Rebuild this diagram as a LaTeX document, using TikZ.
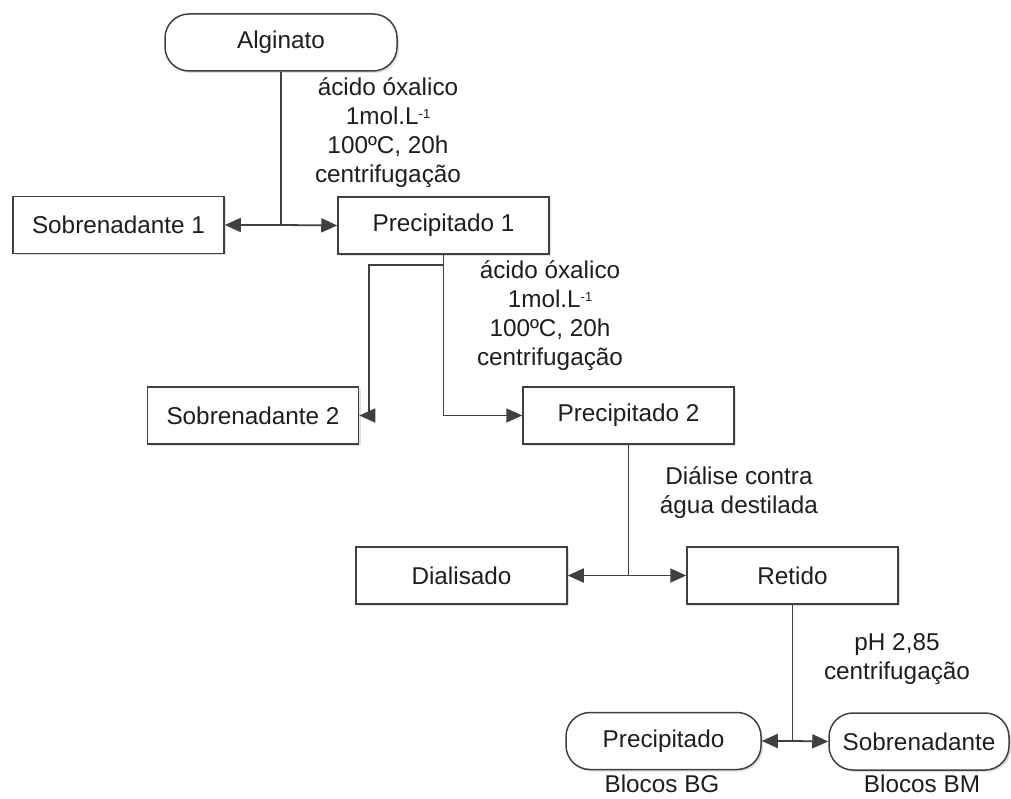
\documentclass[tikz,border=0pt]{standalone}
\usepackage{fontspec}
\setmainfont{Liberation Sans}
\usetikzlibrary{arrows.meta,shadows}
\definecolor{ln}{HTML}{404040}
\definecolor{tx}{HTML}{1E1E1E}
\tikzset{
  box/.style={draw=ln, line width=1.5pt, fill=white, minimum width=211pt, minimum height=57pt,
    inner sep=0pt, text=tx, font=\fontsize{24.3}{29}\selectfont,
    drop shadow={opacity=0.25, shadow xshift=2pt, shadow yshift=-2pt}},
  rbox/.style={box, rounded corners=24pt, minimum height=57pt},
  lbl/.style={align=center, text=tx, font=\fontsize{24.3}{29}\selectfont, inner sep=0pt},
  conn/.style={draw=ln, line width=1.8pt},
  arr/.style={conn, -{Triangle[length=16pt,width=14pt]}},
}
\begin{document}
\begin{tikzpicture}[x=1pt,y=-1pt]
\useasboundingbox (0,0) rectangle (1011,799);
% nodes
\node[rbox, minimum width=232pt] (alg) at (281,42.5) {Alginato};
\node[box] (s1) at (118.5,225) {Sobrenadante 1};
\node[box] (p1) at (443.5,225.5) {Precipitado 1};
\node[box] (s2) at (253,415.5) {Sobrenadante 2};
\node[box] (p2) at (628.5,415.5) {Precipitado 2};
\node[box] (dia) at (461.5,575.5) {Dialisado};
\node[box] (ret) at (792.5,575.5) {Retido};
\node[rbox, minimum width=195pt] (pre) at (663.5,741) {Precipitado};
\node[rbox, minimum width=180pt] (sob) at (919,741.5) {Sobrenadante};
% labels
\node[lbl] (l1) at (388,133) {ácido óxalico\\1mol.L\raisebox{6pt}{\fontsize{13}{13}\selectfont -1}\\100ºC, 20h\\centrifugação};
\node[lbl] (l2) at (550,316) {ácido óxalico\\1mol.L\raisebox{6pt}{\fontsize{13}{13}\selectfont -1}\\100ºC, 20h\\centrifugação};
\node[lbl] (l3) at (739,492.5) {Diálise contra\\água destilada};
\node[lbl] (l4) at (897,659) {pH 2,85\\centrifugação};
\node[lbl] (bg) at (662,784) {Blocos BG};
\node[lbl] (bm) at (922,784) {Blocos BM};
% junctions
\coordinate (j1) at (alg.south |- s1.east);
\coordinate (j2) at (443.5,265);
\coordinate (j2l) at (369,265);
\coordinate (j2d) at (369,415.5);
\coordinate (j3) at (443.5,415.5);
\coordinate (j4) at (p2.south |- dia.east);
\coordinate (j5) at (ret.south |- pre.east);
% connectors
\draw[conn] (alg.south) -- (j1);
\draw[arr] (j1) -- (s1.east);
\draw[arr] (j1) -- (p1.west);
\draw[conn] (p1.south) -- (j2) -- (j2l) -- (j2d);
\draw[arr] (j2d) -- (s2.east);
\draw[conn] (j2) -- (j3);
\draw[arr] (j3) -- (p2.west);
\draw[conn] (p2.south) -- (j4);
\draw[arr] (j4) -- (dia.east);
\draw[arr] (j4) -- (ret.west);
\draw[conn] (ret.south) -- (j5);
\draw[arr] (j5) -- (pre.east);
\draw[arr] (j5) -- (sob.west);
\end{tikzpicture}
\end{document}
